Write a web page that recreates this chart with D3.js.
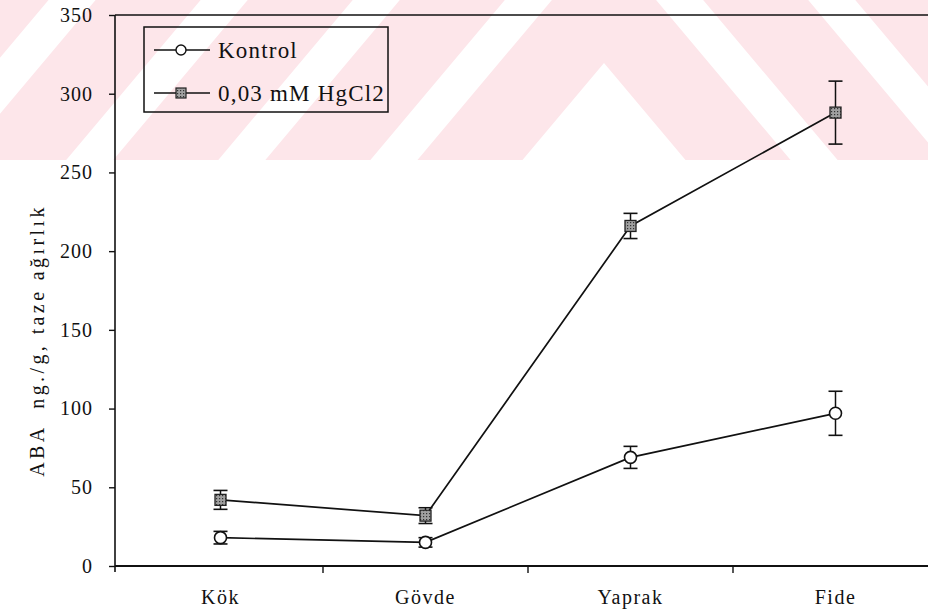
<!DOCTYPE html>
<html>
<head>
<meta charset="utf-8">
<script src="https://cdn.jsdelivr.net/npm/d3@7"></script>
<style>
  html, body { margin: 0; padding: 0; background: #fff; }
  svg { display: block; }
  svg text { font-family: "Liberation Serif", "Times New Roman", Times, "DejaVu Serif", serif !important; fill: #111; }
</style>
</head>
<body>
<svg id="chart" width="928" height="611"></svg>
<script>
// ABA content per plant part (ng/g fresh weight), mean and error
const categories = ["Kök", "Gövde", "Yaprak", "Fide"];
const kontrolMean = [18, 15, 69, 97];
const kontrolErr = [4, 3, 7, 14];
const hgMean = [42, 32, 216, 288];
const hgErr = [6, 5, 8, 20];
const yTicks = [0, 50, 100, 150, 200, 250, 300, 350];
const seriesNames = ["Kontrol", "0,03 mM HgCl2"];
const yTitle = "ABA  ng./g, taze ağırlık";

const W = 928, H = 611;
const svg = d3.select("#chart");
svg.append("rect").attr("width", W).attr("height", H).attr("fill", "#fff");

// Decorative pink chevron band across the top
const band = { bottom: 160, apexX: 604, slope: 1.19 };
const chevronApex = [[-62, 63], [-243, -118], [-424, -299], [-605, -480], [-786, -661]];
const defs = svg.append("defs");
defs.append("clipPath").attr("id", "bandClip")
  .append("rect").attr("x", 0).attr("y", 0).attr("width", W).attr("height", band.bottom);
const tri = ay => {
  const half = (band.bottom + 2 - ay) / band.slope;
  return `M${band.apexX - half},${band.bottom + 2}L${band.apexX},${ay}L${band.apexX + half},${band.bottom + 2}Z`;
};
svg.append("g").attr("clip-path", "url(#bandClip)")
  .selectAll("path").data(chevronApex).join("path")
  .attr("d", d => tri(d[0]) + tri(d[1]))
  .attr("fill-rule", "evenodd")
  .attr("fill", "#fde6ea");

// Speckled grey fill for the square markers
const pat = defs.append("pattern").attr("id", "speck")
  .attr("patternUnits", "userSpaceOnUse").attr("width", 3).attr("height", 3);
pat.append("rect").attr("width", 3).attr("height", 3).attr("fill", "#a0a0a0");
pat.append("rect").attr("width", 1.2).attr("height", 1.2).attr("fill", "#333");

// Scales
const x = d3.scaleBand().domain(categories).range([118, 938]).paddingInner(0).paddingOuter(0);
const y = d3.scaleLinear().domain([0, 350]).range([566, 15]);
const cx = c => x(c) + x.bandwidth() / 2;

// Frame: top line, left axis, bottom axis
svg.append("line").attr("x1", 115).attr("x2", W).attr("y1", y(350)).attr("y2", y(350))
  .attr("stroke", "#111").attr("stroke-width", 1.6);
svg.append("line").attr("x1", 115).attr("x2", 115).attr("y1", y(350)).attr("y2", y(0) + 6)
  .attr("stroke", "#111").attr("stroke-width", 1.6);
svg.append("line").attr("x1", 115).attr("x2", W).attr("y1", y(0)).attr("y2", y(0))
  .attr("stroke", "#111").attr("stroke-width", 1.8);

// Y axis ticks and labels
const yAxis = svg.append("g").attr("transform", "translate(115,0)")
  .call(d3.axisLeft(y).tickValues(yTicks).tickSize(6).tickPadding(16).tickSizeOuter(0));
yAxis.select(".domain").remove();
yAxis.selectAll(".tick line").attr("stroke", "#111").attr("stroke-width", 1.4);
yAxis.selectAll(".tick text").attr("font-size", 20).attr("letter-spacing", "1px").attr("fill", "#111");

// X axis category labels
const xAxis = svg.append("g").attr("transform", `translate(0,${y(0)})`)
  .call(d3.axisBottom(x).tickSize(0).tickPadding(24));
xAxis.select(".domain").remove();
xAxis.selectAll(".tick text").attr("font-size", 20).attr("letter-spacing", "1.5px").attr("fill", "#111");

// Category boundary ticks
svg.append("g").selectAll("line").data(categories.slice(1)).join("line")
  .attr("x1", d => x(d)).attr("x2", d => x(d))
  .attr("y1", y(0)).attr("y2", y(0) + 7)
  .attr("stroke", "#111").attr("stroke-width", 1.4);

// Y axis title
svg.append("text")
  .attr("transform", `translate(44,${(y(0) + y(350)) / 2 + 50}) rotate(-90)`)
  .attr("text-anchor", "middle")
  .attr("font-size", 20).attr("letter-spacing", "3.4px")
  .style("white-space", "pre")
  .text(yTitle);

// Series
const series = [
  { name: seriesNames[0], mean: kontrolMean, err: kontrolErr, shape: "circle" },
  { name: seriesNames[1], mean: hgMean, err: hgErr, shape: "square" }
];
const line = d3.line().x(d => cx(d.c)).y(d => y(d.v));

series.forEach(s => {
  const pts = categories.map((c, i) => ({ c, v: s.mean[i], e: s.err[i] }));
  const g = svg.append("g");
  g.append("path").datum(pts).attr("d", line)
    .attr("fill", "none").attr("stroke", "#111").attr("stroke-width", 1.7);
  // error bars
  const eb = g.selectAll(".eb").data(pts).join("g");
  eb.append("line").attr("x1", d => cx(d.c)).attr("x2", d => cx(d.c))
    .attr("y1", d => y(d.v + d.e)).attr("y2", d => y(d.v - d.e))
    .attr("stroke", "#111").attr("stroke-width", 1.5);
  [1, -1].forEach(sg => {
    eb.append("line").attr("x1", d => cx(d.c) - 7).attr("x2", d => cx(d.c) + 7)
      .attr("y1", d => y(d.v + sg * d.e)).attr("y2", d => y(d.v + sg * d.e))
      .attr("stroke", "#111").attr("stroke-width", 1.6);
  });
  // markers
  if (s.shape === "circle") {
    g.selectAll("circle").data(pts).join("circle")
      .attr("cx", d => cx(d.c)).attr("cy", d => y(d.v)).attr("r", 6)
      .attr("fill", "#fff").attr("stroke", "#111").attr("stroke-width", 1.6);
  } else {
    g.selectAll("rect.m").data(pts).join("rect").attr("class", "m")
      .attr("x", d => cx(d.c) - 5.5).attr("y", d => y(d.v) - 5.5)
      .attr("width", 11).attr("height", 11)
      .attr("fill", "url(#speck)").attr("stroke", "#222").attr("stroke-width", 1.3);
  }
});

// Legend
const lg = svg.append("g");
lg.append("rect").attr("x", 144).attr("y", 27).attr("width", 244).attr("height", 85)
  .attr("fill", "none").attr("stroke", "#111").attr("stroke-width", 1.5);
const rows = [{ s: series[0], y: 50 }, { s: series[1], y: 93 }];
rows.forEach(r => {
  lg.append("line").attr("x1", 154).attr("x2", 210).attr("y1", r.y).attr("y2", r.y)
    .attr("stroke", "#111").attr("stroke-width", 1.5);
  if (r.s.shape === "circle") {
    lg.append("circle").attr("cx", 181).attr("cy", r.y).attr("r", 5)
      .attr("fill", "#fff").attr("stroke", "#111").attr("stroke-width", 1.4);
  } else {
    lg.append("rect").attr("x", 176).attr("y", r.y - 5).attr("width", 10).attr("height", 10)
      .attr("fill", "url(#speck)").attr("stroke", "#222").attr("stroke-width", 1.2);
  }
  lg.append("text").attr("x", 218).attr("y", r.y + 8)
    .attr("font-size", 23).attr("letter-spacing", "1.2px")
    .text(r.s.name);
});
</script>
</body>
</html>
